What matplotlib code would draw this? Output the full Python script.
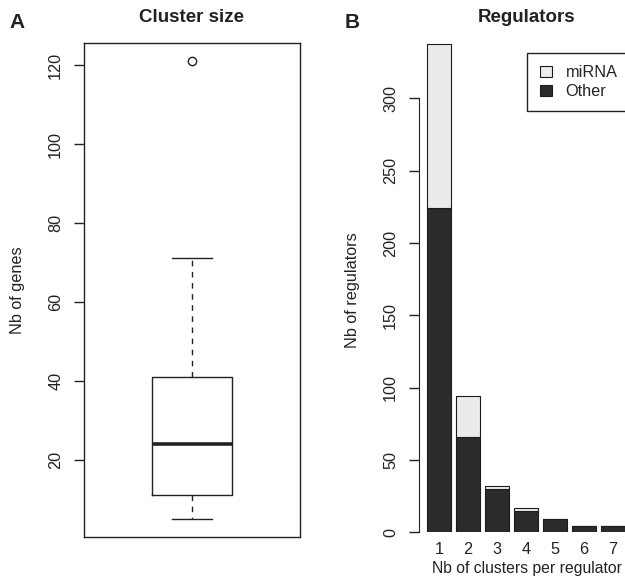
import matplotlib.pyplot as plt
from matplotlib.patches import Patch

# Panel A: cluster size boxplot summary
size_stats = [dict(whislo=5, q1=11, med=24, q3=41, whishi=71, fliers=[121])]
size_ticks = [20, 40, 60, 80, 100, 120]

# Panel B: number of regulators per number of clusters
n_clusters = ["1", "2", "3", "4", "5", "6", "7"]
other = [224, 66, 30, 15, 9, 4, 4]
mirna = [114, 28, 2, 2, 0, 0, 0]
reg_ticks = [0, 50, 100, 150, 200, 250, 300]

plt.rcParams['font.family'] = ['Liberation Sans', 'DejaVu Sans']
ink = '#222222'
W, H = 625, 579
fs = 11.7

fig = plt.figure(figsize=(W / 100, H / 100), dpi=100)


def place(l, t, r, b):
    # pixel box -> figure fraction
    return [l / W, 1 - b / H, (r - l) / W, (b - t) / H]


# ---- A
axA = fig.add_axes(place(84, 43, 300, 537))
axA.bxp(size_stats, positions=[1], widths=0.4, capwidths=0.2,
        boxprops=dict(color=ink, lw=1),
        medianprops=dict(color=ink, lw=2.6),
        whiskerprops=dict(color=ink, lw=1, ls=(0, (4, 4))),
        capprops=dict(color=ink, lw=1),
        flierprops=dict(marker='o', mfc='none', mec=ink, ms=6, mew=1))
lo = min(s['whislo'] for s in size_stats)
hi = max(max(s['fliers']) for s in size_stats)
pad = 0.04 * (hi - lo)
axA.set_ylim(lo - pad, hi + pad)
axA.set_xlim(0.46, 1.54)
axA.set_xticks([])
axA.set_yticks(size_ticks)
axA.tick_params(axis='y', labelrotation=90, length=7, width=1, pad=8,
                labelsize=fs, colors=ink)
for lab in axA.get_yticklabels():
    lab.set_va('center')
for s in axA.spines.values():
    s.set_color(ink)
    s.set_linewidth(1)

# ---- B
pos = [0.7 + 1.2 * i for i in range(len(n_clusters))]
totals = [o + m for o, m in zip(other, mirna)]
ymax = max(totals)
x0, x1 = pos[0] - 0.5, pos[-1] + 0.5
xpad = 0.04 * (x1 - x0)
px_per_unit = 24.2
left_px = 418.8
right_px = left_px + (x1 - x0 + 2 * xpad) * px_per_unit
zero_px, ypx = 532.2, 1.4457
top_px = zero_px - 1.04 * ymax * ypx
axB = fig.add_axes(place(left_px, top_px, right_px, zero_px))
axB.bar(pos, other, width=1, color='#2b2b2b', edgecolor='#1c1c1c', lw=0.8)
axB.bar(pos, mirna, width=1, bottom=other, color='#ebebeb',
        edgecolor='#1c1c1c', lw=0.8)
axB.set_xlim(x0 - xpad, x1 + xpad)
axB.set_ylim(0, 1.04 * ymax)
axB.set_xticks(pos, n_clusters)
axB.set_yticks(reg_ticks)
axB.tick_params(axis='x', length=0, pad=7, labelsize=fs, colors=ink)
axB.tick_params(axis='y', labelrotation=90, length=7, width=1, pad=8,
                labelsize=fs, colors=ink)
for lab in axB.get_yticklabels():
    lab.set_va('center')
for side in ['top', 'right', 'bottom']:
    axB.spines[side].set_visible(False)
axB.spines['left'].set_bounds(reg_ticks[0], reg_ticks[-1])
axB.spines['left'].set_color(ink)

handles = [Patch(facecolor='#ebebeb', edgecolor='#1c1c1c', lw=0.8),
           Patch(facecolor='#2b2b2b', edgecolor='#1c1c1c', lw=0.8)]
leg = fig.legend(handles, ['miRNA', 'Other'], loc='upper left',
                 bbox_to_anchor=(527.3 / W, 1 - 52.7 / H), fontsize=fs,
                 frameon=True, fancybox=False, framealpha=1,
                 edgecolor=ink, borderaxespad=0, handlelength=0.74,
                 handleheight=0.66, handletextpad=0.85, labelspacing=0.22,
                 borderpad=0.77)
leg.get_frame().set_linewidth(1)
for t in leg.get_texts():
    t.set_color(ink)

# titles, panel letters and axis labels
fig.text(192 / W, 1 - 18 / H, 'Cluster size', ha='center', va='center',
         fontsize=13.5, fontweight='bold', color=ink)
fig.text(526.5 / W, 1 - 18 / H, 'Regulators', ha='center', va='center',
         fontsize=13.5, fontweight='bold', color=ink)
fig.text(17 / W, 1 - 23 / H, 'A', ha='center', va='center',
         fontsize=15, fontweight='bold', color=ink)
fig.text(352 / W, 1 - 22 / H, 'B', ha='center', va='center',
         fontsize=15, fontweight='bold', color=ink)
fig.text(18 / W, 1 - 290 / H, 'Nb of genes', rotation=90, ha='center',
         va='center', fontsize=fs, color=ink)
fig.text(352 / W, 1 - 290 / H, 'Nb of regulators', rotation=90, ha='center',
         va='center', fontsize=fs, color=ink)
fig.text(526.5 / W, 1 - 569 / H, 'Nb of clusters per regulator', ha='center',
         va='center', fontsize=11.3, color=ink)

fig.savefig('out.png', dpi=100)
